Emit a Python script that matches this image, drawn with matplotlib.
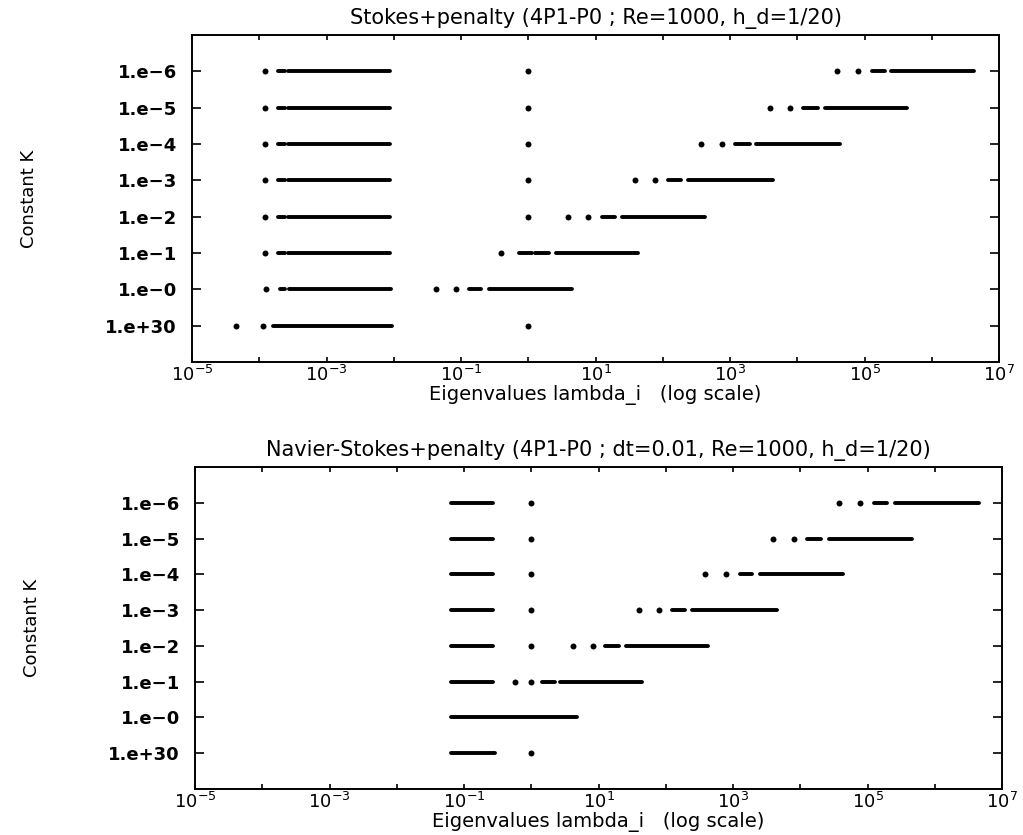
import matplotlib
matplotlib.use('Agg')
import matplotlib.pyplot as plt
from matplotlib.ticker import NullLocator

# rows from bottom to top
k_labels = ['1.e+30', '1.e\u22120', '1.e\u22121', '1.e\u22122',
            '1.e\u22123', '1.e\u22124', '1.e\u22125', '1.e\u22126']
decades = list(range(-5, 8))

# Stokes + penalty: isolated eigenvalues and dense bands (lo, hi)
stokes_dots = [
    [4.5e-5, 1.15e-4, 1.0],
    [1.26e-4, 0.043, 0.085],
    [1.23e-4, 0.39],
    [1.23e-4, 1.0, 3.9, 7.8],
    [1.23e-4, 1.0, 38.6, 77],
    [1.23e-4, 1.0, 372, 760],
    [1.23e-4, 1.0, 3940, 7760],
    [1.23e-4, 1.0, 3.9e4, 7.9e4],
]
stokes_bands = [
    [(1.6e-4, 9.3e-3)],
    [(2.0e-4, 2.4e-4), (2.8e-4, 9.1e-3), (0.13, 0.20), (0.26, 4.4)],
    [(1.9e-4, 2.4e-4), (2.7e-4, 8.7e-3), (0.72, 1.12), (1.26, 2.0), (2.6, 43)],
    [(1.9e-4, 2.4e-4), (2.7e-4, 8.7e-3), (12.3, 19.5), (24.5, 427)],
    [(1.9e-4, 2.4e-4), (2.7e-4, 8.7e-3), (120, 186), (240, 4370)],
    [(1.9e-4, 2.4e-4), (2.7e-4, 8.7e-3), (1200, 1950), (2450, 42700)],
    [(1.9e-4, 2.4e-4), (2.7e-4, 8.7e-3), (1.23e4, 2.04e4), (2.57e4, 4.27e5)],
    [(1.9e-4, 2.4e-4), (2.7e-4, 8.7e-3), (1.29e5, 2.04e5), (2.5e5, 4.2e6)],
]

# Navier-Stokes + penalty
ns_dots = [
    [1.0],
    [],
    [0.58, 1.0],
    [1.0, 4.2, 8.2],
    [1.0, 40, 78],
    [1.0, 380, 776],
    [1.0, 3890, 7940],
    [1.0, 3.8e4, 7.76e4],
]
ns_bands = [
    [(0.063, 0.29)],
    [(0.063, 4.8)],
    [(0.063, 0.27), (1.45, 2.24), (2.7, 44)],
    [(0.063, 0.27), (12.6, 20), (25.7, 427)],
    [(0.063, 0.27), (123, 195), (245, 4570)],
    [(0.063, 0.27), (1260, 1900), (2510, 43600)],
    [(0.063, 0.27), (1.26e4, 2.0e4), (2.63e4, 4.57e5)],
    [(0.063, 0.27), (1.23e5, 1.95e5), (2.57e5, 4.47e6)],
]

titles = ['Stokes+penalty (4P1-P0 ; Re=1000, h_d=1/20)',
          'Navier-Stokes+penalty (4P1-P0 ; dt=0.01, Re=1000, h_d=1/20)']

plt.rcParams['font.family'] = ['DejaVu Sans']
fig = plt.figure(figsize=(10.23, 8.35), dpi=100)
ax1 = fig.add_axes([0.1877, 0.5665, 0.789, 0.3916])
ax2 = fig.add_axes([0.1906, 0.0551, 0.789, 0.3856])


def draw(ax, dots, bands, title):
    for i in range(len(k_labels)):
        y = i + 1
        for lo, hi in bands[i]:
            ax.plot([lo, hi], [y, y], color='black', lw=2.8,
                    solid_capstyle='round')
        if dots[i]:
            ax.plot(dots[i], [y] * len(dots[i]), 'o', color='black',
                    ms=4.3, mew=0)
    ax.set_xscale('log')
    ax.set_xlim(1e-5, 1e7)
    ax.set_ylim(0, 9)
    ax.set_xticks([10.0 ** d for d in decades])
    ax.set_xticklabels(['$10^{%d}$' % d if d % 2 else '' for d in decades])
    ax.xaxis.set_minor_locator(NullLocator())
    ax.set_yticks(range(1, len(k_labels) + 1))
    ax.set_yticklabels(k_labels, fontweight='bold')
    ax.tick_params(axis='x', direction='in', top=True, length=3.5,
                   width=1.2, labelsize=13, pad=2)
    ax.tick_params(axis='y', direction='in', right=True, length=6.5,
                   width=1.2, labelsize=13, pad=11)
    for s in ax.spines.values():
        s.set_linewidth(1.4)
    ax.set_title(title, fontsize=15, pad=8)
    ax.set_xlabel('Eigenvalues lambda_i   (log scale)', fontsize=14,
                  labelpad=0)
    ax.set_ylabel('Constant K', fontsize=13,
                  family=['Liberation Sans Narrow', 'DejaVu Sans'])
    ax.yaxis.set_label_coords(-0.191, 0.5)


draw(ax1, stokes_dots, stokes_bands, titles[0])
draw(ax2, ns_dots, ns_bands, titles[1])

plt.savefig('out.png', dpi=100)
